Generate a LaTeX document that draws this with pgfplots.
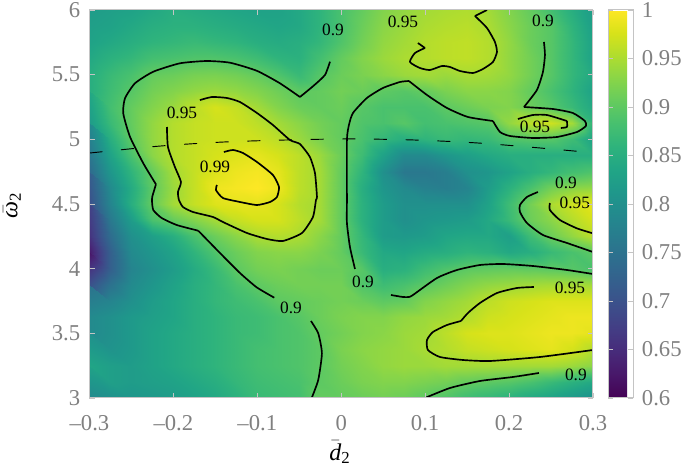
\documentclass[border=0pt]{standalone}
\usepackage{fontspec}
\setmainfont{Liberation Serif}
\usepackage{pgfplots}
\usepgfplotslibrary{colormaps}
\pgfplotsset{compat=1.18}
\definecolor{tickgray}{HTML}{808080}
\definecolor{framegray}{HTML}{C4C4C4}
\newcommand{\cl}{\fontsize{13}{15}\selectfont}
\pgfplotsset{cont/.style={black, line width=1.25pt, line join=round, smooth, tension=0.35}}
\begin{document}
\begin{tikzpicture}
\path[use as bounding box] (-67.125pt,-51pt) rectangle (446.625pt,298.5pt);
\begin{axis}[
  anchor=south west, at={(0pt,0pt)},
  scale only axis, width=377.6pt, height=291pt,
  xmin=-0.3, xmax=0.3, ymin=3, ymax=6,
  view={0}{90},
  axis on top,
  colormap/viridis,
  point meta min=0.6, point meta max=1,
  xtick={-0.3,-0.2,-0.1,0,0.1,0.2,0.3},
  xticklabels={--0.3,--0.2,--0.1,0,0.1,0.2,0.3},
  ytick={3,3.5,4,4.5,5,5.5,6},
  yticklabels={3,3.5,4,4.5,5,5.5,6},
  tick align=inside,
  major tick length=3.75pt,
  tick style={framegray,line width=0.5pt},
  axis line style={framegray,line width=0.75pt},
  tick label style={font=\fontsize{17}{19}\selectfont, text=tickgray},
  xticklabel style={yshift=-9.5pt},
  yticklabel style={xshift=-3.5pt},
  xlabel={$\bar{\mathit{d}}_{\mathrm{2}}$},
  ylabel={$\bar{\mbox{\itshape ω}}_{\mathrm{2}}$},
  label style={font=\fontsize{18}{20}\selectfont, text=black},
  xlabel style={at={(axis description cs:0.4975,-0.14)},anchor=center},
  ylabel style={at={(axis description cs:-0.154,0.497)},anchor=center,rotate=0},
  colorbar,
  colorbar style={
    width=18.75pt, xshift=-11pt,
    ytick={0.6,0.65,0.7,0.75,0.8,0.85,0.9,0.95,1},
    yticklabels={0.6,0.65,0.7,0.75,0.8,0.85,0.9,0.95,1},
    tick align=inside,
    major tick length=3.75pt,
    tick style={framegray,line width=0.5pt},
    axis line style={framegray,line width=0.75pt},
    yticklabel style={font=\fontsize{17}{19}\selectfont, text=tickgray, xshift=3pt},
  },
]
\addplot3[surf, shader=interp, mesh/rows=25, mesh/cols=25]
  table[row sep=\\, header=false, x expr={-0.3+0.025*mod(\coordindex,25)}, y expr={6-0.125*floor(\coordindex/25)}, z index=0] {
.82\\.825\\.83\\.84\\.85\\.845\\.84\\.835\\.83\\.83\\.84\\.86\\.885\\.905\\.925\\.935\\.945\\.95\\.953\\.945\\.925\\.905\\.88\\.85\\.82\\
.825\\.83\\.84\\.85\\.855\\.855\\.85\\.845\\.84\\.835\\.84\\.86\\.885\\.91\\.93\\.94\\.95\\.955\\.958\\.95\\.93\\.91\\.895\\.86\\.825\\
.83\\.84\\.85\\.86\\.865\\.87\\.865\\.86\\.85\\.845\\.85\\.865\\.89\\.915\\.935\\.945\\.955\\.96\\.962\\.955\\.935\\.91\\.895\\.865\\.83\\
.84\\.855\\.865\\.88\\.885\\.89\\.89\\.885\\.875\\.86\\.855\\.88\\.905\\.925\\.94\\.95\\.955\\.96\\.962\\.955\\.935\\.915\\.895\\.865\\.83\\
.85\\.87\\.885\\.905\\.91\\.918\\.92\\.915\\.905\\.89\\.87\\.895\\.91\\.92\\.93\\.94\\.945\\.94\\.948\\.945\\.935\\.915\\.895\\.865\\.84\\
.85\\.875\\.895\\.915\\.925\\.935\\.94\\.935\\.925\\.912\\.90\\.905\\.915\\.91\\.90\\.895\\.905\\.92\\.93\\.93\\.925\\.905\\.885\\.86\\.83\\
.84\\.88\\.905\\.925\\.94\\.96\\.975\\.965\\.945\\.925\\.91\\.905\\.91\\.895\\.885\\.885\\.885\\.90\\.91\\.92\\.925\\.91\\.895\\.87\\.84\\
.82\\.87\\.905\\.935\\.955\\.965\\.97\\.97\\.96\\.945\\.93\\.915\\.905\\.89\\.885\\.895\\.88\\.885\\.89\\.895\\.935\\.96\\.97\\.945\\.86\\
.79\\.85\\.90\\.935\\.955\\.965\\.97\\.97\\.97\\.96\\.94\\.92\\.905\\.885\\.865\\.85\\.86\\.87\\.865\\.87\\.89\\.895\\.895\\.875\\.83\\
.76\\.83\\.885\\.93\\.955\\.965\\.975\\.98\\.985\\.975\\.96\\.94\\.91\\.875\\.83\\.79\\.79\\.81\\.825\\.84\\.85\\.85\\.85\\.85\\.85\\
.74\\.81\\.86\\.905\\.945\\.965\\.98\\.99\\.995\\.985\\.96\\.945\\.905\\.86\\.80\\.76\\.76\\.77\\.80\\.81\\.83\\.85\\.865\\.88\\.89\\
.72\\.79\\.845\\.90\\.94\\.965\\.99\\.995\\1.0\\.99\\.96\\.945\\.905\\.85\\.81\\.79\\.775\\.77\\.78\\.82\\.855\\.885\\.915\\.93\\.935\\
.70\\.78\\.85\\.905\\.945\\.965\\.98\\.985\\.985\\.975\\.955\\.945\\.905\\.855\\.82\\.80\\.80\\.80\\.80\\.83\\.875\\.915\\.95\\.97\\.985\\
.68\\.76\\.82\\.885\\.905\\.925\\.945\\.965\\.975\\.975\\.96\\.945\\.905\\.855\\.82\\.80\\.81\\.815\\.82\\.84\\.87\\.91\\.93\\.955\\.975\\
.66\\.74\\.80\\.825\\.85\\.885\\.91\\.93\\.95\\.955\\.95\\.93\\.905\\.865\\.82\\.815\\.82\\.835\\.84\\.84\\.825\\.875\\.91\\.935\\.96\\
.63\\.72\\.79\\.81\\.83\\.86\\.89\\.91\\.925\\.93\\.93\\.92\\.905\\.87\\.84\\.835\\.845\\.85\\.86\\.855\\.84\\.85\\.87\\.885\\.90\\
.62\\.72\\.78\\.80\\.82\\.845\\.87\\.90\\.915\\.92\\.915\\.91\\.91\\.895\\.85\\.855\\.875\\.89\\.90\\.903\\.905\\.903\\.90\\.895\\.885\\
.70\\.75\\.79\\.81\\.83\\.85\\.865\\.885\\.90\\.91\\.915\\.915\\.915\\.89\\.875\\.885\\.90\\.912\\.925\\.935\\.94\\.945\\.948\\.948\\.945\\
.75\\.78\\.80\\.82\\.835\\.85\\.865\\.875\\.885\\.90\\.905\\.91\\.915\\.91\\.90\\.905\\.925\\.935\\.945\\.96\\.97\\.975\\.98\\.98\\.98\\
.79\\.80\\.815\\.825\\.835\\.85\\.86\\.87\\.875\\.885\\.895\\.91\\.92\\.925\\.925\\.935\\.94\\.945\\.955\\.97\\.975\\.98\\.985\\.99\\.99\\
.79\\.80\\.815\\.83\\.84\\.85\\.86\\.87\\.875\\.885\\.89\\.905\\.915\\.925\\.93\\.94\\.945\\.96\\.975\\.98\\.98\\.985\\.99\\.99\\.985\\
.80\\.805\\.815\\.83\\.84\\.85\\.86\\.87\\.88\\.885\\.89\\.90\\.92\\.93\\.935\\.94\\.948\\.955\\.965\\.97\\.975\\.98\\.985\\.975\\.955\\
.835\\.825\\.82\\.83\\.84\\.85\\.86\\.87\\.88\\.885\\.89\\.90\\.915\\.925\\.935\\.94\\.94\\.945\\.945\\.945\\.945\\.945\\.945\\.94\\.93\\
.83\\.825\\.82\\.825\\.83\\.84\\.85\\.865\\.875\\.88\\.885\\.90\\.91\\.92\\.925\\.925\\.92\\.915\\.905\\.90\\.895\\.885\\.87\\.855\\.84\\
.79\\.80\\.81\\.815\\.82\\.83\\.84\\.855\\.87\\.875\\.88\\.905\\.905\\.91\\.915\\.91\\.90\\.89\\.875\\.865\\.855\\.84\\.83\\.815\\.80\\
};
% contours at 0.9
\addplot[cont] coordinates {(-.0134,5.600)(-.0194,5.4974)(-.0333,5.4124)(-.0492,5.3273)};
\addplot[cont] coordinates {(-.0492,5.3273)(-.0730,5.4332)(-.1008,5.5306)(-.1326,5.5925)(-.1604,5.6056)(-.1922,5.5879)(-.2240,5.5229)(-.2458,5.4332)(-.2577,5.3172)(-.2598,5.2013)(-.2518,5.0203)(-.2359,4.8146)(-.2208,4.6523)};
\addplot[cont] coordinates {(-.2208,4.6523)(-.2252,4.5564)(-.2256,4.5309)(-.2240,4.4536)(-.2140,4.3917)(-.1961,4.3376)(-.1704,4.2935)};
\addplot[cont] coordinates {(-.1704,4.2935)(-.1445,4.1211)(-.1207,3.9665)(-.1008,3.8559)(-.0798,3.7755)};
\addplot[cont] coordinates {(-.0361,3.5953)(-.0274,3.5002)(-.0230,3.3456)(-.0274,3.1391)(-.0352,3.0)};
\addplot[cont] coordinates {(.2416,5.7526)(.2428,5.6520)(.2404,5.5206)(.2332,5.3814)(.2178,5.2500)};
\addplot[cont] coordinates {(.2178,5.2500)(.2523,5.2345)(.2761,5.2036)(.2904,5.1417)(.2916,5.1031)(.2809,5.0567)(.2571,5.0180)(.2285,5.0103)(.2011,5.0258)(.1892,5.0567)(.1808,5.1417)};
\addplot[cont] coordinates {(.1808,5.1417)(.1510,5.1727)(.1260,5.2422)(.1022,5.3428)(.0807,5.4510)};
\addplot[cont] coordinates {(.0807,5.4510)(.0700,5.4433)(.0497,5.3969)(.0306,5.3196)(.0140,5.2036)(.0092,5.1108)(.0068,4.9948)(.0068,4.5309)(.0068,4.3531)(.0104,4.1675)(.0164,3.9974)};
\addplot[cont] coordinates {(.0593,3.7964)(.0735,3.7809)(.0807,3.7809)(.0855,3.7964)(.1141,3.9278)(.1379,3.9897)(.1653,4.0283)(.1927,4.0361)(.2285,4.0206)(.2690,3.9897)(.3000,3.9587)};
\addplot[cont] coordinates {(.2344,4.5928)(.2213,4.5541)(.2130,4.4922)(.2130,4.4382)(.2213,4.3531)(.2404,4.2603)(.2690,4.1985)(.3,4.1288)};
\addplot[cont] coordinates {(.0998,3.0)(.1296,3.0773)(.1653,3.1314)(.2046,3.1624)(.2356,3.1933)};
% contours at 0.95
\addplot[cont] coordinates {(-.1684,5.3035)(-.1541,5.3273)(-.1362,5.3196)(-.1207,5.2886)(-.1004,5.2036)(-.0814,5.1108)(-.0611,4.9948)(-.0492,4.9639)(-.0373,4.8634)(-.0313,4.7396)(-.0289,4.5541)(-.0301,4.5309)(-.0337,4.3995)(-.0468,4.2758)(-.0695,4.2139)(-.0885,4.2294)(-.1124,4.2758)(-.1410,4.3608)(-.1529,4.3995)(-.1767,4.4382)(-.1886,4.4767)(-.1934,4.5309)(-.1946,4.5928)(-.1910,4.6701)(-.1982,4.7860)(-.2065,4.9407)(-.2077,5.0953)};
\addplot[cont] coordinates {(.1737,6.0)(.1594,5.9536)};
\addplot[cont] coordinates {(.1594,5.9536)(.1737,5.8608)(.1832,5.7526)(.1856,5.6753)(.1808,5.5979)(.1689,5.5438)(.1570,5.5129)(.1415,5.5283)(.1296,5.5593)(.1200,5.5670)(.1057,5.5361)(.0938,5.5515)(.0819,5.5979)(.0879,5.6675)(.0998,5.7062)};
\addplot[cont] coordinates {(.0998,5.7062)(.0914,5.7448)};
\addplot[cont] coordinates {(.2106,5.1572)(.2285,5.1881)(.2452,5.1881)(.2690,5.1417)};
\addplot[cont] coordinates {(.2690,5.1417)(.2690,5.0955)(.2618,5.0876)};
\addplot[cont] coordinates {(.2487,4.5076)(.2487,4.4535)(.2606,4.3763)(.2809,4.3117)(.3,4.2730)};
\addplot[cont] coordinates {(.2297,3.8582)(.2094,3.8505)(.1856,3.8118)(.1653,3.7345)(.1510,3.6572)(.1427,3.5953)};
\addplot[cont] coordinates {(.1427,3.5953)(.1260,3.5644)(.1093,3.5103)(.1022,3.4484)(.1033,3.3711)(.1176,3.3170)(.1451,3.2938)(.1772,3.2861)(.2368,3.3170)(.3,3.3711)};
% contour at 0.99
\addplot[cont] coordinates {(-.1398,4.9020)(-.1290,4.9175)(-.1171,4.8943)(-.1004,4.8247)(-.0814,4.7242)(-.0742,4.6314)(-.0766,4.5541)(-.0849,4.5155)(-.1004,4.4922)(-.1207,4.5155)(-.1410,4.5464)(-.1493,4.6082)(-.1481,4.6469)};
% dashed curve
\addplot[black, line width=0.7pt, smooth, dash pattern=on 9.75pt off 14pt] coordinates {(-.3,4.894)(-.216,4.948)(-.141,4.979)(-.065,4.995)(.010,5.003)(.086,4.995)(.162,4.972)(.237,4.933)(.282,4.907)};
\begin{scope}[every node/.style={font=\cl, text=black, inner sep=0pt}]
\node at (axis cs:-.0099,5.8453) {0.9};
\node at (axis cs:-.1898,5.2036) {0.95};
\node at (axis cs:-.1505,4.7860) {0.99};
\node at (axis cs:.0736,5.9072) {0.95};
\node at (axis cs:.2404,5.9149) {0.9};
\node at (axis cs:.2309,5.0953) {0.95};
\node at (axis cs:.2679,4.6623) {0.9};
\node at (axis cs:.2785,4.5077) {0.95};
\node at (axis cs:.0259,3.8968) {0.9};
\node at (axis cs:.2726,3.8505) {0.95};
\node at (axis cs:-.0599,3.7) {0.9};
\node at (axis cs:.2797,3.1778) {0.9};
\end{scope}
\end{axis}
\end{tikzpicture}
\end{document}
